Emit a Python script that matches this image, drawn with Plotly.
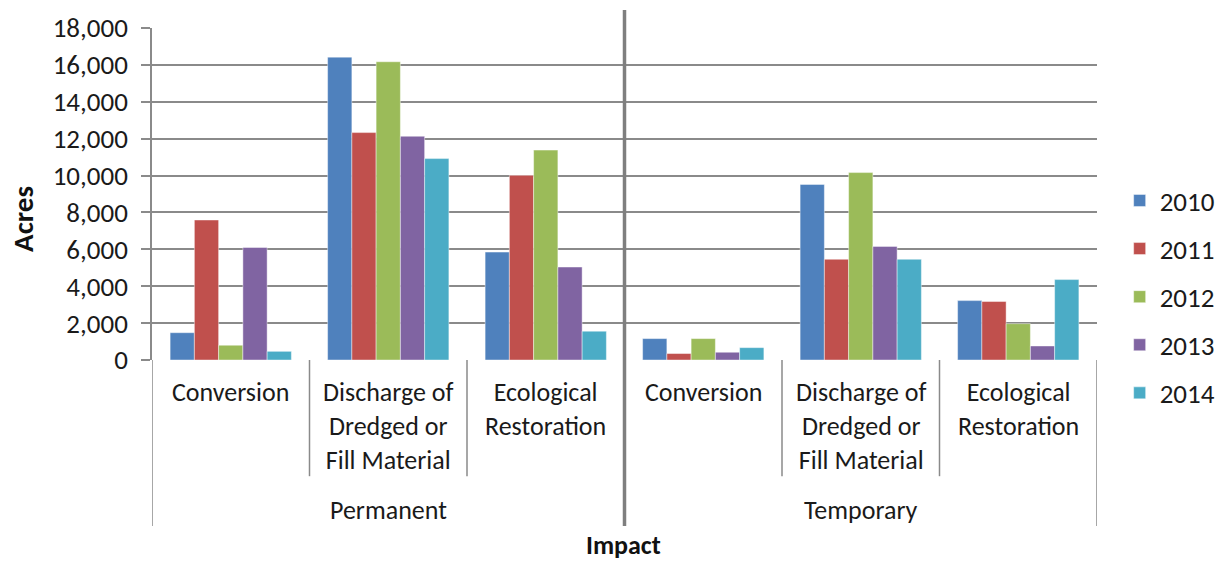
import plotly.graph_objects as go

years = ["2010", "2011", "2012", "2013", "2014"]
outer = ["Permanent", "Temporary"]
inner = ["Conversion", "Discharge of<br>Dredged or<br>Fill Material", "Ecological<br>Restoration"]

v2010 = [1480, 16420, 5850, 1160, 9520, 3220]
v2011 = [7590, 12330, 10010, 350, 5460, 3170]
v2012 = [800, 16170, 11380, 1160, 10160, 1970]
v2013 = [6100, 12130, 5040, 420, 6160, 760]
v2014 = [470, 10920, 1560, 670, 5460, 4360]
series = [v2010, v2011, v2012, v2013, v2014]
colors = ["#4F81BD", "#C0504D", "#9BBB59", "#8064A2", "#4BACC6"]

FONT = "Carlito, Lato, sans-serif"
GRID = "#8a8a8a"
TXT = "#1a1a1a"

cats = [(o, i) for o in outer for i in inner]
xs = list(range(len(cats)))

fig = go.Figure()
for y, vals, c in zip(years, series, colors):
    fig.add_trace(go.Bar(x=xs, y=vals, name=y, legendgroup=y,
                         marker=dict(color=c, line=dict(color="rgba(255,255,255,0.55)", width=0.8))))

# category labels
for x, (o, i) in zip(xs, cats):
    fig.add_annotation(x=x, y=-0.042, xref="x", yref="paper", text=i, showarrow=False,
                       xanchor="center", yanchor="top", font=dict(family=FONT, size=26, color=TXT))
for k, o in enumerate(outer):
    fig.add_annotation(x=k * 3 + 1, y=-0.452, xref="x", yref="paper", text=o, showarrow=False,
                       xanchor="center", yanchor="middle", font=dict(family=FONT, size=26, color=TXT))

# separators
n = len(cats)
for b in range(n + 1):
    xb = b - 0.5
    if b in (0, n):
        fig.add_shape(type="line", xref="x", yref="paper", x0=xb, x1=xb, y0=0, y1=-0.5,
                      line=dict(color=GRID, width=1.5))
    elif b == 3:
        fig.add_shape(type="line", xref="x", yref="paper", x0=xb, x1=xb, y0=1.054, y1=-0.5,
                      line=dict(color="#7f7f7f", width=3.5), layer="above")
    else:
        fig.add_shape(type="line", xref="x", yref="paper", x0=xb, x1=xb, y0=0, y1=-0.35,
                      line=dict(color=GRID, width=1.5))

fig.add_annotation(x=-0.1365, y=0.425, xref="paper", yref="paper", text="<b>Acres</b>", textangle=-90,
                   showarrow=False, xanchor="center", yanchor="middle",
                   font=dict(family=FONT, size=29, color="#111"))
fig.add_annotation(x=0.499, y=-0.557, xref="paper", yref="paper", text="<b>Impact</b>",
                   showarrow=False, xanchor="center", yanchor="middle",
                   font=dict(family=FONT, size=26, color="#111"))

fig.update_layout(
    width=1225, height=563,
    margin=dict(l=152, r=128, t=28, b=203),
    paper_bgcolor="white", plot_bgcolor="white",
    barmode="group", bargap=0.23, bargroupgap=0,
    font=dict(family=FONT, size=26, color=TXT),
    showlegend=True,
    legend=dict(xref="container", x=0.914, xanchor="left", y=0.19, yanchor="middle",
                traceorder="grouped", tracegroupgap=10,
                font=dict(family=FONT, size=27, color=TXT), itemwidth=30),
    xaxis=dict(range=[-0.5, n - 0.5], showticklabels=False, showgrid=False, zeroline=False,
               showline=False, ticks=""),
    yaxis=dict(range=[0, 18000], dtick=2000, tickformat=",d", showgrid=True, gridcolor=GRID,
               gridwidth=1.5, zeroline=False, showline=True, linecolor=GRID, linewidth=1.5,
               ticks="outside", ticklen=9, tickcolor=GRID, tickwidth=1.5, ticklabelstandoff=8,
               tickfont=dict(family=FONT, size=27, color=TXT)),
)

fig.write_html("out.html", config={"displayModeBar": False},
               post_script="document.body.style.margin='0';document.body.style.overflow='hidden';")
